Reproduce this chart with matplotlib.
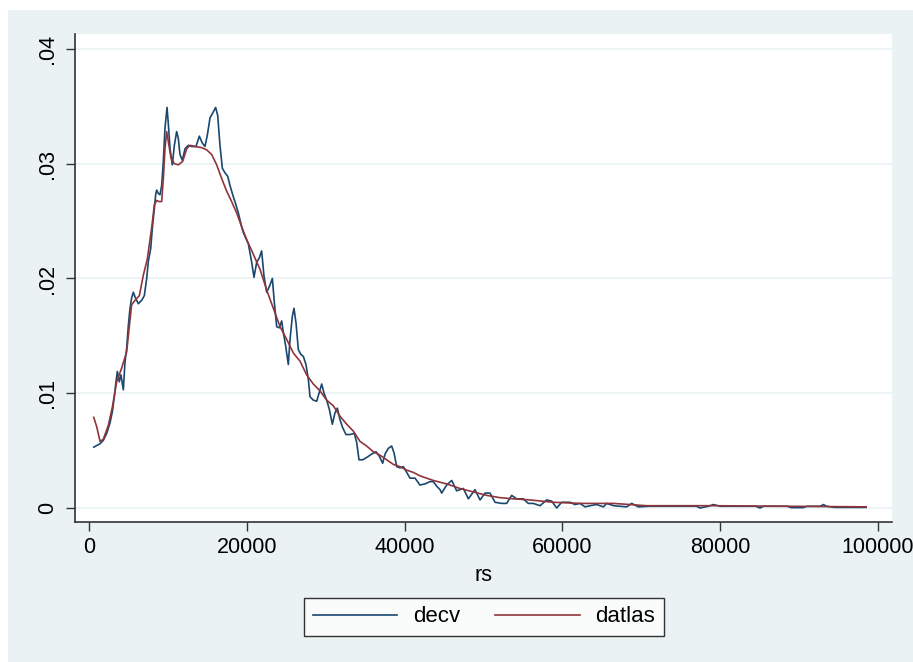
import matplotlib
matplotlib.use("Agg")
import matplotlib.pyplot as plt
from matplotlib.patches import Rectangle

plt.rcParams['font.family'] = ['Liberation Sans', 'DejaVu Sans']

# decv: raw density estimate
decv_x = [600, 1400, 1817, 2240, 2660, 2960, 3210, 3420, 3590, 3840, 4050, 4350, 4560, 4770,
          4985, 5200, 5400, 5620, 5830, 6250, 6680, 7010, 7310, 7520, 7820, 8030, 8240, 8450,
          8580, 8790, 9000, 9210, 9420, 9630, 9890, 10060, 10270, 10560, 10820, 11110, 11320,
          11530, 11830, 12170, 12590, 13010, 13560, 13980, 14360, 14700, 15000, 15340, 15670,
          16050, 16310, 16600, 16900, 17240, 17580, 17870, 18210, 18590, 18930, 19350, 19560,
          20200, 20620, 20910, 21250, 21590, 21880, 22180, 22520, 22860, 23240, 23490, 23790,
          24120, 24420, 24630, 24930, 25260, 25480, 25770, 25980, 26240, 26530, 26830, 27170,
          27500, 27800, 28010, 28430, 28860, 29150, 29490, 29790, 30120, 30460, 30840, 31180,
          31470, 31810, 32150, 32570, 33080, 33630, 33930, 34220, 34690, 35190, 35830, 36380,
          36800, 37220, 37520, 37940, 38360, 38660, 39000, 39420, 39840, 40260, 40690, 41320,
          41950, 42590, 43220, 43640, 44070, 44490, 44700, 45330, 45970, 46600, 47450, 48080,
          48920, 49560, 50190, 50820, 51460, 52300, 52940, 53570, 54200, 55050, 55680, 56320,
          57160, 58010, 58640, 59280, 59910, 60960, 61600, 62230, 62870, 63500, 64340, 65190,
          65610, 66500, 68150, 68780, 69620, 71000, 76000, 77000, 77440, 78500, 79130, 80000,
          84500, 85050, 85500, 88500, 89000, 90500, 91000, 92700, 93070, 93500, 94500, 98500]
decv_y = [.0053, .0056, .0059, .0065, .0074, .0084, .0097, .0110, .0119, .0110, .0116, .0103,
          .0127, .0139, .0159, .0174, .0183, .0188, .0184, .0178, .0181, .0185, .0200, .0215,
          .0226, .0244, .0258, .0273, .0277, .0274, .0273, .0281, .0302, .0331, .0349, .0334,
          .0313, .0299, .0316, .0328, .0322, .0308, .0303, .0313, .0316, .0315, .0315, .0324,
          .0318, .0315, .0325, .0340, .0344, .0349, .0342, .0316, .0296, .0292, .0289, .0281,
          .0273, .0265, .0257, .0245, .0240, .0230, .0214, .0201, .0214, .0218, .0224, .0202,
          .0188, .0193, .0200, .0179, .0158, .0157, .0163, .0153, .0141, .0125, .0147, .0167,
          .0174, .0161, .0138, .0134, .0132, .0125, .0112, .0097, .0094, .0093, .0100, .0108,
          .0100, .0094, .0086, .0073, .0083, .0087, .0077, .0070, .0064, .0064, .0065, .0057,
          .0042, .0042, .0044, .0047, .0049, .0045, .0039, .0047, .0052, .0054, .0048, .0036,
          .0035, .0036, .0031, .0026, .0026, .0020, .0021, .0023, .0023, .0019, .0016, .0013,
          .0020, .0024, .0015, .0017, .0008, .0016, .0007, .0013, .0013, .0005, .0004, .0004,
          .0011, .0008, .0008, .0004, .0004, .0002, .0007, .0006, .0000, .0005, .0005, .0003,
          .0004, .0001, .0002, .0003, .0001, .0004, .0002, .0001, .0004, .0001, .00015, .00015,
          .00015, .0000, .00015, .0003, .00015, .00015, .0000, .00015, .00015, .00003, .00003,
          .00015, .00015, .0003, .00015, .00005, .00005]

# datlas: smoothed density
datlas_x = [600, 970, 1400, 1817, 2450, 2960, 3510, 4140, 4770, 5400, 5830, 6380, 6890, 7390,
            7940, 8280, 8580, 8870, 9210, 9420, 9630, 9840, 10060, 10390, 10820, 11320, 11870,
            12380, 12800, 13430, 14280, 14920, 15550, 16180, 16820, 17450, 18080, 18720, 19350,
            19980, 20830, 21670, 22520, 23360, 24210, 25050, 25900, 26740, 27590, 28430, 29280,
            30120, 30970, 31810, 32660, 33500, 34350, 35190, 36040, 36880, 37730, 38570, 39420,
            40260, 41110, 41950, 42800, 43640, 45330, 47020, 48710, 50400, 52090, 53780, 55900,
            58850, 62230, 66460, 70680, 79130, 98500]
datlas_y = [.0079, .0071, .0058, .0060, .0072, .0088, .0110, .0122, .0136, .0177, .0181, .0185,
            .0203, .0217, .0244, .0264, .0268, .0267, .0267, .0287, .0313, .0328, .0319, .0305,
            .0300, .0299, .0302, .0313, .0316, .0315, .0314, .0312, .0308, .0299, .0287, .0276,
            .0267, .0257, .0245, .0234, .0221, .0208, .0190, .0174, .0158, .0147, .0135, .0128,
            .0116, .0108, .0102, .0094, .0089, .0080, .0073, .0067, .0058, .0054, .0049, .0046,
            .0042, .0038, .0036, .0033, .0031, .0028, .0026, .0024, .0021, .0017, .0014, .0011,
            .0009, .0008, .0007, .0005, .0004, .0004, .0002, .0002, .0001]

x_ticks = [0, 20000, 40000, 60000, 80000, 100000]
y_ticks = [0, .01, .02, .03, .04]
y_tick_labels = ["0", ".01", ".02", ".03", ".04"]

BG = "#EAF2F3"
NAVY = "#1A476F"
MAROON = "#90353B"
W, H = 913, 662

fig = plt.figure(figsize=(W / 100, H / 100), dpi=100, facecolor="white")
fig.patches.append(Rectangle((8 / W, 0), 1 - 8 / W, 1 - 10 / H, transform=fig.transFigure,
                             facecolor=BG, edgecolor="none", zorder=-10))

ax = fig.add_axes([75 / W, 1 - 522 / H, (892 - 75) / W, (522 - 34) / H])
ax.set_facecolor("white")

ax.plot(decv_x, decv_y, color=NAVY, lw=1.2, label="decv")
ax.plot(datlas_x, datlas_y, color=MAROON, lw=1.2, label="datlas")

ax.set_xlim(-1775, 101775)
ax.set_ylim(-0.00122, 0.0413)
ax.set_xticks(x_ticks)
ax.set_xticklabels([str(v) for v in x_ticks])
ax.set_yticks(y_ticks)
ax.set_yticklabels(y_tick_labels, rotation=90, va="center")
ax.yaxis.grid(True, color=BG, lw=1.2)
ax.set_axisbelow(True)

for s in ("top", "right"):
    ax.spines[s].set_visible(False)
for s in ("left", "bottom"):
    ax.spines[s].set_color("#333333")
    ax.spines[s].set_linewidth(1.2)

ax.tick_params(axis="both", direction="out", length=6.5, width=1.0, color="#333333",
               labelsize=15.5, labelcolor="black")
ax.tick_params(axis="x", pad=4)
ax.tick_params(axis="y", pad=6)

ax.set_xlabel("rs", fontsize=15.5, labelpad=5)

leg = fig.legend(loc="center", bbox_to_anchor=(484 / W, 1 - 617 / H), ncol=2,
                 fontsize=16, frameon=True, fancybox=False, handlelength=3.8,
                 handletextpad=0.7, columnspacing=1.6, borderpad=0.4)
leg.get_frame().set_edgecolor("black")
leg.get_frame().set_linewidth(1.0)
leg.get_frame().set_facecolor("white")
for line in leg.get_lines():
    line.set_linewidth(1.2)

fig.savefig("out.png", dpi=100, facecolor="white")
